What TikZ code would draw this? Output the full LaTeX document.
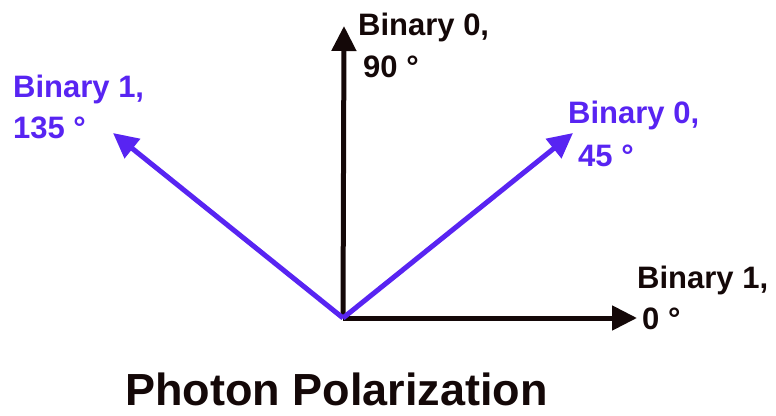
\documentclass[tikz,border=0pt]{standalone}
\usepackage{fontspec}
\setmainfont{Liberation Sans}
\usetikzlibrary{arrows.meta}
\definecolor{polblue}{RGB}{88,36,242}
\definecolor{polblack}{RGB}{20,8,8}
\tikzset{
  vec/.style={line width=5pt,-{Triangle[length=25pt,width=24pt]}},
  lbl/.style={inner sep=0pt,anchor=base west,font=\bfseries\fontsize{31}{37}\selectfont},
}
\begin{document}
\begin{tikzpicture}[x=1pt,y=-1pt]
\useasboundingbox (0,0) rectangle (776,415);
\coordinate (O) at (343,318);
\coordinate (t90) at (344,26);
\coordinate (t0) at (637,318);
\coordinate (t45) at (573,133);
\coordinate (t135) at (113,133);
\draw[vec,polblack] (O) -- (t90);
\draw[vec,polblack] (O) -- (t0);
\draw[vec,polblue] (O) -- (t45);
\draw[vec,polblue] (O) -- (t135);
\node[lbl,text=polblack] (l90a) at (358,35) {Binary 0,};
\node[lbl,text=polblack] (l90b) at (363,77) {90 °};
\node[lbl,text=polblack] (l0a) at (637,288) {Binary 1,};
\node[lbl,text=polblack] (l0b) at (642,329) {0 °};
\node[lbl,text=polblue] (l45a) at (568,123) {Binary 0,};
\node[lbl,text=polblue] (l45b) at (578,166) {45 °};
\node[lbl,text=polblue] (l135a) at (13,97) {Binary 1,};
\node[lbl,text=polblue] (l135b) at (13,138) {135 °};
\node[inner sep=0pt,anchor=base west,text=polblack,font=\bfseries\fontsize{45}{52}\selectfont] (title) at (125,405) {Photon Polarization};
\end{tikzpicture}
\end{document}
